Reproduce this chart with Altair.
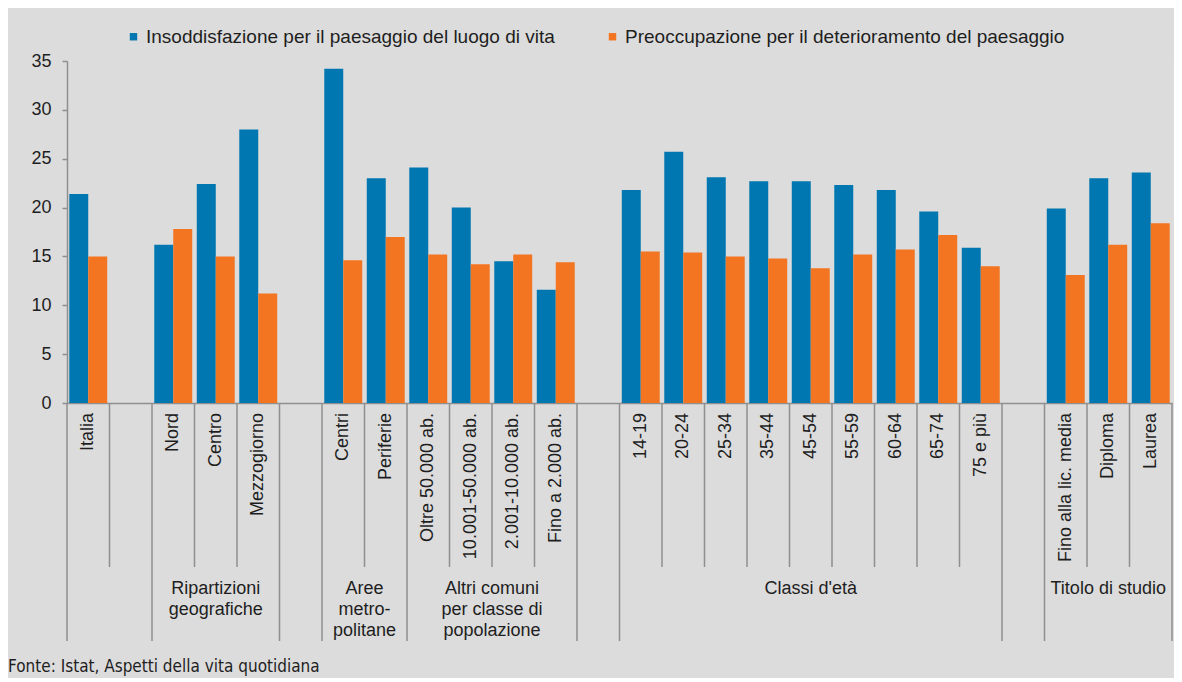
import altair as alt
import pandas as pd

# ---- data -------------------------------------------------------------
slot_ids = ["Italia", "gap1", "Nord", "Centro", "Mezzogiorno", "gap2",
            "Centri", "Periferie", "Oltre 50.000 ab.", "10.001-50.000 ab.",
            "2.001-10.000 ab.", "Fino a 2.000 ab.", "gap3",
            "14-19", "20-24", "25-34", "35-44", "45-54", "55-59", "60-64",
            "65-74", "75 e più", "gap4",
            "Fino alla lic. media", "Diploma", "Laurea"]
slot_labels = ["Italia", "", "Nord", "Centro", "Mezzogiorno", "",
               "Centri", "Periferie", "Oltre 50.000 ab.", "10.001-50.000 ab.",
               "2.001-10.000 ab.", "Fino a 2.000 ab.", "",
               "14-19", "20-24", "25-34", "35-44", "45-54", "55-59", "60-64",
               "65-74", "75 e più", "",
               "Fino alla lic. media", "Diploma", "Laurea"]
insoddisfazione = [21.4, None, 16.2, 22.4, 28.0, None,
                   34.2, 23.0, 24.1, 20.0, 14.5, 11.6, None,
                   21.8, 25.7, 23.1, 22.7, 22.7, 22.3, 21.8, 19.6, 15.9, None,
                   19.9, 23.0, 23.6]
preoccupazione = [15.0, None, 17.8, 15.0, 11.2, None,
                  14.6, 17.0, 15.2, 14.2, 15.2, 14.4, None,
                  15.5, 15.4, 15.0, 14.8, 13.8, 15.2, 15.7, 17.2, 14.0, None,
                  13.1, 16.2, 18.4]
series_names = ["Insoddisfazione per il paesaggio del luogo di vita",
                "Preoccupazione per il deterioramento del paesaggio"]
series_colors = ["#0077B0", "#F37521"]

group_labels = ["Ripartizioni\ngeografiche", "Aree\nmetro-\npolitane",
                "Altri comuni\nper classe di\npopolazione", "Classi d'età",
                "Titolo di studio"]
group_start = [2, 6, 8, 13, 23]
group_end = [5, 8, 12, 22, 26]

long_bounds = [0, 2, 5, 6, 8, 12, 13, 22, 23, 26]
short_bounds = [1, 3, 4, 7, 9, 10, 11, 14, 15, 16, 17, 18, 19, 20, 21, 24, 25]

y_ticks = [0, 5, 10, 15, 20, 25, 30, 35]
source_note = ["Fonte: Istat, Aspetti della vita quotidiana"]

# ---- tables -----------------------------------------------------------
rows = []
for s, a, b in zip(slot_ids, insoddisfazione, preoccupazione):
    if a is not None:
        rows.append({"slot": s, "series": series_names[0], "value": a})
    if b is not None:
        rows.append({"slot": s, "series": series_names[1], "value": b})
bar_df = pd.DataFrame(rows)
label_df = pd.DataFrame({"slot": slot_ids, "label": slot_labels})
group_df = pd.DataFrame({"label": group_labels, "start": group_start, "end": group_end})
long_df = pd.DataFrame({"k": long_bounds})
short_df = pd.DataFrame({"k": short_bounds})
note_df = pd.DataFrame({"note": source_note})

W, H = 1105, 342
GRID = "#8f8f8f"
TXT = "#1e1e1e"
FONT = "Liberation Sans"

band_scale = alt.Scale(domain=slot_ids, paddingInner=0, paddingOuter=0)
lin_scale = alt.Scale(domain=[0, 26], nice=False, zero=False)

bars = alt.Chart(bar_df).mark_bar().encode(
    x=alt.X("slot:N", sort=slot_ids, scale=band_scale,
            axis=alt.Axis(labels=False, ticks=False, title=None, grid=False,
                          domainColor=GRID, domainWidth=1.5)),
    xOffset=alt.XOffset("series:N", sort=series_names,
                        scale=alt.Scale(domain=series_names, paddingOuter=0.12, paddingInner=0)),
    y=alt.Y("value:Q", scale=alt.Scale(domain=[0, 35], nice=False),
            axis=alt.Axis(values=y_ticks, title=None, grid=False, tickSize=5,
                          tickColor=GRID, domainColor=GRID, domainWidth=1.5, tickWidth=1.5,
                          labelFontSize=18, labelColor=TXT, labelPadding=11, labelFont=FONT)),
    color=alt.Color("series:N", sort=series_names,
                    scale=alt.Scale(domain=series_names, range=series_colors),
                    legend=alt.Legend(title=None, orient="none", direction="horizontal",
                                      legendX=57, legendY=-34, symbolType="square",
                                      symbolSize=55, symbolStrokeWidth=0, labelFontSize=19,
                                      labelFont=FONT, labelColor=TXT, labelOffset=3,
                                      columnPadding=48, labelLimit=1000)),
)

labels = alt.Chart(label_df).mark_text(angle=270, align="right", baseline="middle",
                                       fontSize=18, font=FONT, color=TXT).encode(
    x=alt.X("slot:N", sort=slot_ids, scale=band_scale, axis=None),
    y=alt.value(H + 10),
    text="label:N",
)

short_rules = alt.Chart(short_df).mark_rule(color=GRID, strokeWidth=1.5).encode(
    x=alt.X("k:Q", scale=lin_scale, axis=None),
    y=alt.value(H), y2=alt.value(H + 164),
)
long_rules = alt.Chart(long_df).mark_rule(color=GRID, strokeWidth=1.5).encode(
    x=alt.X("k:Q", scale=lin_scale, axis=None),
    y=alt.value(H), y2=alt.value(H + 238),
)

groups = alt.Chart(group_df).transform_calculate(
    center="(datum.start + datum.end) / 2"
).mark_text(align="center", baseline="top", lineBreak="\n", lineHeight=21,
            fontSize=18, font=FONT, color=TXT).encode(
    x=alt.X("center:Q", scale=lin_scale, axis=None),
    y=alt.value(H + 177),
    text="label:N",
)

note = alt.Chart(note_df).mark_text(align="left", baseline="alphabetic",
                                    fontSize=17, font="Liberation Sans Narrow, DejaVu Sans Condensed, sans-serif",
                                    color=TXT).encode(
    x=alt.value(-59),
    y=alt.value(611),
    text="note:N",
)

chart = alt.layer(bars, labels, short_rules, long_rules, groups, note).resolve_scale(
    x="independent"
).properties(
    width=W, height=H,
    autosize=alt.AutoSizeParams(type="none"),
    padding={"left": 59, "top": 53, "right": 2, "bottom": 275},
    background="#DCDCDC",
).configure_view(stroke=None).configure(font=FONT)

chart.save("out.html", embed_options={"renderer": "svg", "actions": False})
